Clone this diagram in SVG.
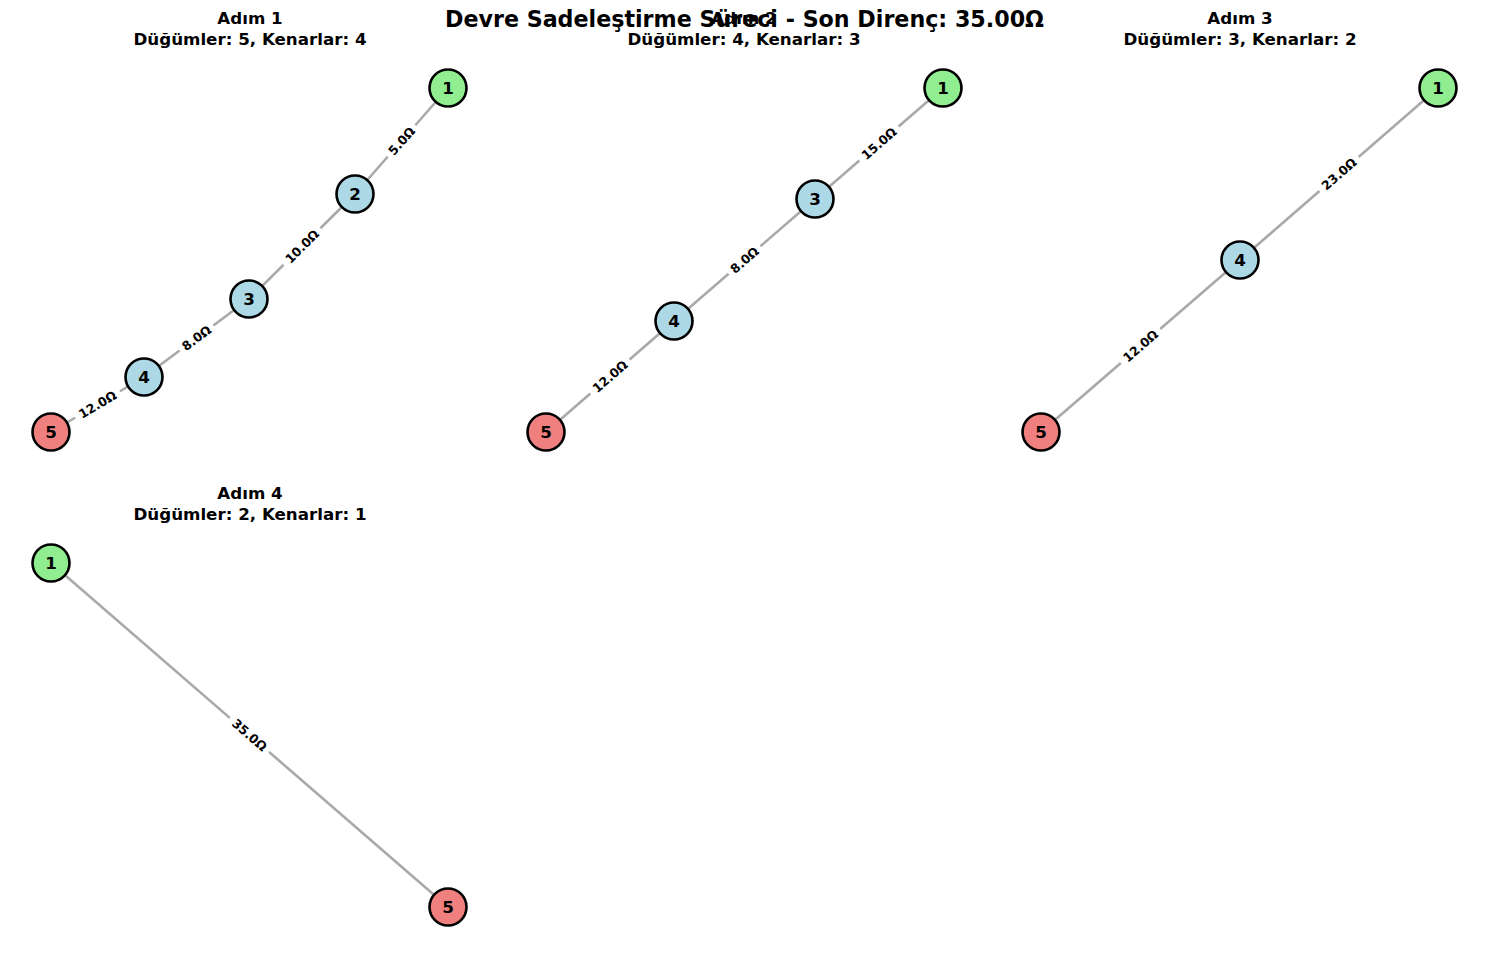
<svg xmlns="http://www.w3.org/2000/svg" width="1489" height="954" viewBox="0 0 1489 954">
<style>
  text { font-family: "DejaVu Sans", "Liberation Sans", sans-serif; font-weight: bold; fill: #000; }
  .title { font-size: 22.2px; text-anchor: middle; }
  .sub { font-size: 16.7px; text-anchor: middle; }
  .nlabel { font-size: 16.7px; text-anchor: middle; }
  .elabel { font-size: 12.5px; text-anchor: middle; }
  .edge { stroke: #a9a9a9; stroke-width: 2.6; fill: none; }
  .lbg { fill: #fff; stroke: none; }
  .node { stroke: #000; stroke-width: 2.6; }
  .src { fill: #90ee90; }
  .mid { fill: #add8e6; }
  .dst { fill: #f08080; }
</style>
<rect width="1489" height="954" fill="#fff"/>

<g id="titles">
  <text class="sub" x="250" y="24">Adım 1</text>
  <text class="sub" x="250" y="45">Düğümler: 5, Kenarlar: 4</text>
  <text class="sub" x="744" y="24">Adım 2</text>
  <text class="sub" x="744" y="45">Düğümler: 4, Kenarlar: 3</text>
  <text class="sub" x="1240" y="24">Adım 3</text>
  <text class="sub" x="1240" y="45">Düğümler: 3, Kenarlar: 2</text>
  <text class="sub" x="250" y="499">Adım 4</text>
  <text class="sub" x="250" y="520">Düğümler: 2, Kenarlar: 1</text>
  <text class="title" x="744.5" y="27">Devre Sadeleştirme Süreci - Son Direnç: 35.00Ω</text>
</g>

<g id="connectors">
  <!-- Panel 1 -->
  <line class="edge" x1="448" y1="88" x2="355" y2="194"/>
  <line class="edge" x1="355" y1="194" x2="249" y2="299"/>
  <line class="edge" x1="249" y1="299" x2="144" y2="377"/>
  <line class="edge" x1="144" y1="377" x2="51" y2="432"/>
  <!-- Panel 2 -->
  <line class="edge" x1="943" y1="88" x2="815" y2="199"/>
  <line class="edge" x1="815" y1="199" x2="674" y2="321"/>
  <line class="edge" x1="674" y1="321" x2="546" y2="432"/>
  <!-- Panel 3 -->
  <line class="edge" x1="1438" y1="88" x2="1240" y2="260"/>
  <line class="edge" x1="1240" y1="260" x2="1041" y2="432"/>
  <!-- Panel 4 -->
  <line class="edge" x1="51" y1="563" x2="448" y2="907"/>

  <!-- edge labels -->
  <g transform="translate(401.5,141) rotate(-48.7)"><rect class="lbg" x="-21" y="-8" width="42" height="16"/><text class="elabel" x="0" y="4.5">5.0Ω</text></g>
  <g transform="translate(302,246.5) rotate(-44.7)"><rect class="lbg" x="-26" y="-8" width="52" height="16"/><text class="elabel" x="0" y="4.5">10.0Ω</text></g>
  <g transform="translate(196.5,338) rotate(-36.6)"><rect class="lbg" x="-21" y="-8" width="42" height="16"/><text class="elabel" x="0" y="4.5">8.0Ω</text></g>
  <g transform="translate(97.5,404.5) rotate(-30.6)"><rect class="lbg" x="-26" y="-8" width="52" height="16"/><text class="elabel" x="0" y="4.5">12.0Ω</text></g>

  <g transform="translate(879,143.5) rotate(-40.9)"><rect class="lbg" x="-26" y="-8" width="52" height="16"/><text class="elabel" x="0" y="4.5">15.0Ω</text></g>
  <g transform="translate(744.5,260) rotate(-40.9)"><rect class="lbg" x="-21" y="-8" width="42" height="16"/><text class="elabel" x="0" y="4.5">8.0Ω</text></g>
  <g transform="translate(610,376.5) rotate(-40.9)"><rect class="lbg" x="-26" y="-8" width="52" height="16"/><text class="elabel" x="0" y="4.5">12.0Ω</text></g>

  <g transform="translate(1339,174) rotate(-41)"><rect class="lbg" x="-26" y="-8" width="52" height="16"/><text class="elabel" x="0" y="4.5">23.0Ω</text></g>
  <g transform="translate(1140.5,346) rotate(-40.8)"><rect class="lbg" x="-26" y="-8" width="52" height="16"/><text class="elabel" x="0" y="4.5">12.0Ω</text></g>

  <g transform="translate(249.5,735) rotate(40.9)"><rect class="lbg" x="-26" y="-8" width="52" height="16"/><text class="elabel" x="0" y="4.5">35.0Ω</text></g>
</g>

<!-- Panel 1 nodes -->
<g id="p1-n1"><circle class="node src" cx="448" cy="88" r="18.5"/><text class="nlabel" x="448" y="94">1</text></g>
<g id="p1-n2"><circle class="node mid" cx="355" cy="194" r="18.5"/><text class="nlabel" x="355" y="200">2</text></g>
<g id="p1-n3"><circle class="node mid" cx="249" cy="299" r="18.5"/><text class="nlabel" x="249" y="305">3</text></g>
<g id="p1-n4"><circle class="node mid" cx="144" cy="377" r="18.5"/><text class="nlabel" x="144" y="383">4</text></g>
<g id="p1-n5"><circle class="node dst" cx="51" cy="432" r="18.5"/><text class="nlabel" x="51" y="438">5</text></g>

<!-- Panel 2 nodes -->
<g id="p2-n1"><circle class="node src" cx="943" cy="88" r="18.5"/><text class="nlabel" x="943" y="94">1</text></g>
<g id="p2-n3"><circle class="node mid" cx="815" cy="199" r="18.5"/><text class="nlabel" x="815" y="205">3</text></g>
<g id="p2-n4"><circle class="node mid" cx="674" cy="321" r="18.5"/><text class="nlabel" x="674" y="327">4</text></g>
<g id="p2-n5"><circle class="node dst" cx="546" cy="432" r="18.5"/><text class="nlabel" x="546" y="438">5</text></g>

<!-- Panel 3 nodes -->
<g id="p3-n1"><circle class="node src" cx="1438" cy="88" r="18.5"/><text class="nlabel" x="1438" y="94">1</text></g>
<g id="p3-n4"><circle class="node mid" cx="1240" cy="260" r="18.5"/><text class="nlabel" x="1240" y="266">4</text></g>
<g id="p3-n5"><circle class="node dst" cx="1041" cy="432" r="18.5"/><text class="nlabel" x="1041" y="438">5</text></g>

<!-- Panel 4 nodes -->
<g id="p4-n1"><circle class="node src" cx="51" cy="563" r="18.5"/><text class="nlabel" x="51" y="569">1</text></g>
<g id="p4-n5"><circle class="node dst" cx="448" cy="907" r="18.5"/><text class="nlabel" x="448" y="913">5</text></g>
</svg>
